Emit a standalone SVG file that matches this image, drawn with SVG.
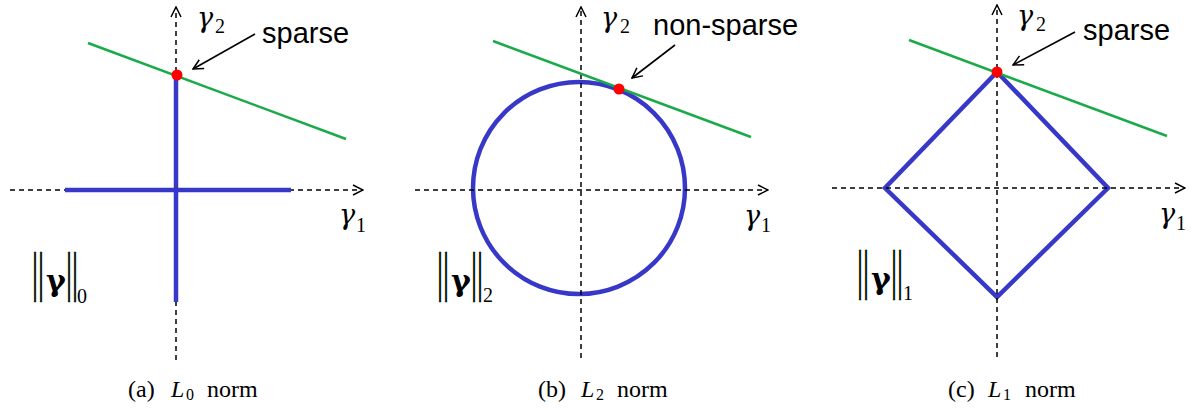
<svg xmlns="http://www.w3.org/2000/svg" width="1193" height="410" viewBox="0 0 1193 410">
<style>
.axis{fill:none;stroke:#000;stroke-width:1.5;stroke-dasharray:5 4;marker-end:url(#chev)}
.ball{fill:none;stroke:#3838c8;stroke-width:4.5}
.line{fill:none;stroke:#1aaa4a;stroke-width:2.5}
.dot{fill:#ff0000}
.ann{fill:none;stroke:#000;stroke-width:1.6;marker-end:url(#chev)}
.lab{font-family:"Liberation Sans",Arial,sans-serif;font-size:29px;fill:#000}
.g{font-family:"DejaVu Serif","Liberation Serif",serif;font-style:italic;font-size:27px;fill:#000}
.sub{font-family:"Liberation Serif","Times New Roman",serif;font-size:20px;fill:#000}
.bars{font-family:"Liberation Serif","Times New Roman",serif;font-size:30px;fill:#000;stroke:#000;stroke-width:0.4}
.bg{font-family:"DejaVu Serif","Liberation Serif",serif;font-style:normal;font-weight:bold;font-size:30px;fill:#000}
.cap{font-family:"Liberation Serif","Times New Roman",serif;font-size:24px;fill:#000}
.capi{font-family:"Liberation Serif","Times New Roman",serif;font-style:italic;font-size:24px;fill:#000}
.caps{font-family:"Liberation Serif","Times New Roman",serif;font-size:16px;fill:#000}
</style>
<defs>
<marker id="chev" viewBox="0 0 12 12" refX="11" refY="6" markerWidth="12" markerHeight="12" markerUnits="userSpaceOnUse" orient="auto">
<path d="M1,1 L11,6 L1,11" fill="none" stroke="#000" stroke-width="1.5" stroke-dasharray="none"/>
</marker>
</defs>

<g id="panel-a">
<g id="a-axes">
<line class="axis" x1="176" y1="360" x2="176" y2="7"/>
<line class="axis" x1="10" y1="190" x2="363" y2="190"/>
</g>
<g id="a-ball">
<line class="ball" x1="65" y1="190" x2="291" y2="190"/>
<line class="ball" x1="176" y1="76" x2="176" y2="302"/>
</g>
<line id="a-line" class="line" x1="88" y1="43" x2="346" y2="139"/>
<circle id="a-dot" class="dot" cx="177" cy="75" r="5.5"/>
<line id="a-ann" class="ann" x1="255" y1="34" x2="193" y2="69"/>
<text class="lab" x="262" y="43">sparse</text>
<text class="g" x="197" y="27">γ</text><text class="sub" x="215" y="33">2</text>
<text class="g" x="339" y="224">γ</text><text class="sub" x="356" y="232">1</text>
<g id="a-norm">
<text class="bars" transform="translate(32,302) scale(1,1.83)" x="0" y="-6.5">||</text>
<text class="bg" x="46" y="291">γ</text>
<text class="bars" transform="translate(66,302) scale(1,1.83)" x="0" y="-6.5">||</text>
<text class="sub" x="77" y="303">0</text>
</g>
<g id="a-cap">
<text class="cap" x="128" y="397">(a)</text>
<text class="capi" x="171" y="397">L</text><text class="caps" x="186" y="400">0</text>
<text class="cap" x="207" y="397">norm</text>
</g>
</g>

<g id="panel-b">
<circle id="b-ball" class="ball" cx="579" cy="188" r="106"/>
<g id="b-axes">
<line class="axis" x1="581" y1="358" x2="581" y2="7"/>
<line class="axis" x1="415" y1="190" x2="768" y2="190"/>
</g>
<line id="b-line" class="line" x1="493" y1="41" x2="751" y2="137"/>
<circle id="b-dot" class="dot" cx="619" cy="89" r="5.5"/>
<line id="b-ann" class="ann" x1="675" y1="45" x2="632" y2="78"/>
<text class="lab" x="653" y="35">non-sparse</text>
<text class="g" x="601" y="27">γ</text><text class="sub" x="620" y="33">2</text>
<text class="g" x="744" y="225">γ</text><text class="sub" x="761" y="232">1</text>
<g id="b-norm">
<text class="bars" transform="translate(437,302) scale(1,1.83)" x="0" y="-6.5">||</text>
<text class="bg" x="451" y="291">γ</text>
<text class="bars" transform="translate(471,302) scale(1,1.83)" x="0" y="-6.5">||</text>
<text class="sub" x="483" y="302">2</text>
</g>
<g id="b-cap">
<text class="cap" x="538" y="397">(b)</text>
<text class="capi" x="581" y="397">L</text><text class="caps" x="596" y="400">2</text>
<text class="cap" x="617" y="397">norm</text>
</g>
</g>

<g id="panel-c">
<polygon id="c-ball" class="ball" points="997,72 1108,188 997,297 885,188" stroke-linejoin="miter"/>
<g id="c-axes">
<line class="axis" x1="997" y1="357" x2="997" y2="5"/>
<line class="axis" x1="832" y1="188" x2="1185" y2="188"/>
</g>
<line id="c-line" class="line" x1="909" y1="40" x2="1167" y2="136"/>
<circle id="c-dot" class="dot" cx="997" cy="72" r="5.5"/>
<line id="c-ann" class="ann" x1="1075" y1="32" x2="1013" y2="65"/>
<text class="lab" x="1083" y="40">sparse</text>
<text class="g" x="1017" y="25">γ</text><text class="sub" x="1036" y="31">2</text>
<text class="g" x="1159" y="223">γ</text><text class="sub" x="1176" y="230">1</text>
<g id="c-norm">
<text class="bars" transform="translate(857,300) scale(1,1.83)" x="0" y="-6.5">||</text>
<text class="bg" x="871" y="289">γ</text>
<text class="bars" transform="translate(891,300) scale(1,1.83)" x="0" y="-6.5">||</text>
<text class="sub" x="903" y="300">1</text>
</g>
<g id="c-cap">
<text class="cap" x="948" y="397">(c)</text>
<text class="capi" x="988" y="397">L</text><text class="caps" x="1003" y="400">1</text>
<text class="cap" x="1025" y="397">norm</text>
</g>
</g>
</svg>
